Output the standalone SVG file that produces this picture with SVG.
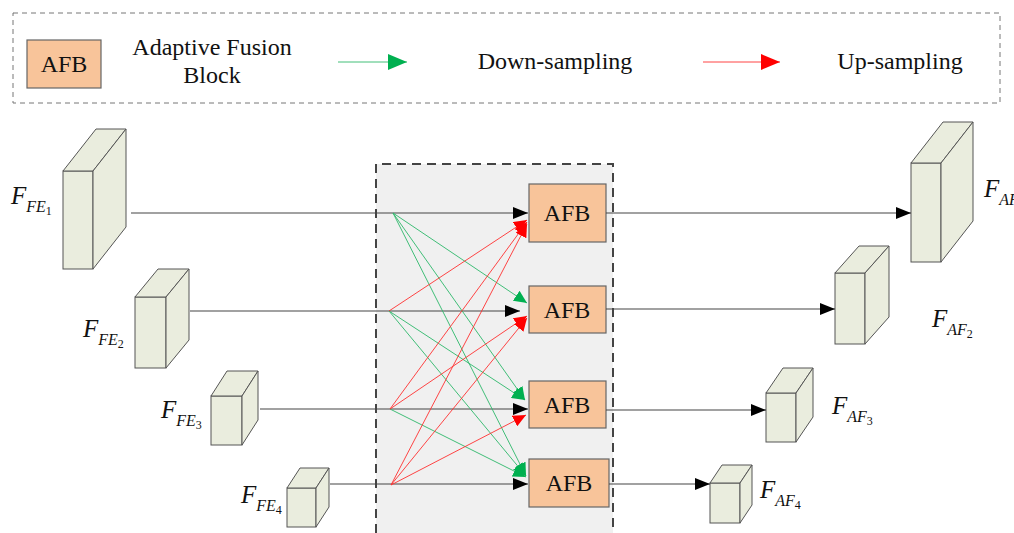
<svg xmlns="http://www.w3.org/2000/svg" width="1014" height="533" viewBox="0 0 1014 533">
<style>
.dash{fill:none;stroke:#777;stroke-width:1;stroke-dasharray:5,4}
.afb{fill:#f8c49a;stroke:#666;stroke-width:1.2}
.afbt{font-family:"Liberation Serif",serif;font-size:24px;fill:#111;text-anchor:middle}
.leg{font-family:"Liberation Serif",serif;font-size:24px;fill:#111;text-anchor:middle}
.cube{fill:#eaedde;stroke:#555;stroke-width:1}
.blk{stroke:#444;stroke-width:1.1;fill:none}
.grn{stroke:#2db86a;stroke-width:0.9;fill:none}
.red{stroke:#ff3030;stroke-width:0.9;fill:none}
.lab{font-family:"Liberation Serif",serif;font-style:italic;font-size:25px;fill:#111}
.s1{font-size:16px}
.s2{font-size:12px;font-style:normal}
</style>
<defs>
<marker id="mb" markerUnits="userSpaceOnUse" markerWidth="16" markerHeight="12" refX="15" refY="6" orient="auto"><path d="M0,0 L15,6 L0,12 z" fill="#000"/></marker>
<marker id="mg" markerUnits="userSpaceOnUse" markerWidth="14" markerHeight="12" refX="13" refY="6" orient="auto"><path d="M0,0 L13,6 L0,12 z" fill="#00b050"/></marker>
<marker id="mr" markerUnits="userSpaceOnUse" markerWidth="14" markerHeight="12" refX="13" refY="6" orient="auto"><path d="M0,0 L13,6 L0,12 z" fill="#ff0000"/></marker>
<marker id="mgl" markerUnits="userSpaceOnUse" markerWidth="20" markerHeight="16" refX="19" refY="8" orient="auto"><path d="M0,0 L19,8 L0,16 z" fill="#00b050"/></marker>
<marker id="mrl" markerUnits="userSpaceOnUse" markerWidth="20" markerHeight="16" refX="19" refY="8" orient="auto"><path d="M0,0 L19,8 L0,16 z" fill="#ff0000"/></marker>
</defs>

<g id="legend">
<rect x="13" y="13" width="987" height="90" class="dash"/>
<rect x="27" y="40" width="74" height="48" class="afb"/>
<text x="64" y="72" class="afbt">AFB</text>
<text x="212" y="55" class="leg">Adaptive Fusion</text>
<text x="212" y="83" class="leg">Block</text>
<line x1="338" y1="62" x2="407" y2="62" class="grn" marker-end="url(#mgl)"/>
<text x="555" y="69" class="leg">Down-sampling</text>
<line x1="703" y1="62" x2="780" y2="62" class="red" marker-end="url(#mrl)"/>
<text x="900" y="69" class="leg">Up-sampling</text>
</g>

<g id="fusion-region">
<rect x="376" y="164" width="237" height="380" fill="#f0f0f0"/>
<path d="M376,533 V164 H613 V533" fill="none" stroke="#444" stroke-width="2" stroke-dasharray="9,6"/>
</g>

<g id="in1"><rect x="63" y="171" width="30" height="98" class="cube"/><path d="M63,171 L96,129 L126,129 L93,171 z" class="cube"/><path d="M93,171 L126,129 L126,227 L93,269 z" class="cube"/>
<text x="11" y="204" class="lab">F<tspan class="s1" dy="8">FE</tspan><tspan class="s2" dy="3">1</tspan></text></g>
<g id="in2"><rect x="135" y="297" width="31" height="71" class="cube"/><path d="M135,297 L158,269 L189,269 L166,297 z" class="cube"/><path d="M166,297 L189,269 L189,340 L166,368 z" class="cube"/>
<text x="83" y="337" class="lab">F<tspan class="s1" dy="8">FE</tspan><tspan class="s2" dy="3">2</tspan></text></g>
<g id="in3"><rect x="211" y="396" width="31" height="49" class="cube"/><path d="M211,396 L227,371 L258,371 L242,396 z" class="cube"/><path d="M242,396 L258,371 L258,420 L242,445 z" class="cube"/>
<text x="161" y="418" class="lab">F<tspan class="s1" dy="8">FE</tspan><tspan class="s2" dy="3">3</tspan></text></g>
<g id="in4"><rect x="287" y="488" width="29" height="39" class="cube"/><path d="M287,488 L300,468 L329,468 L316,488 z" class="cube"/><path d="M316,488 L329,468 L329,507 L316,527 z" class="cube"/>
<text x="241" y="503" class="lab">F<tspan class="s1" dy="8">FE</tspan><tspan class="s2" dy="3">4</tspan></text></g>

<g id="afb1"><rect x="529" y="184" width="77" height="58" class="afb"/><text x="567" y="221" class="afbt">AFB</text></g>
<g id="afb2"><rect x="529" y="286" width="77" height="47" class="afb"/><text x="567" y="318" class="afbt">AFB</text></g>
<g id="afb3"><rect x="529" y="381" width="77" height="47" class="afb"/><text x="567" y="413" class="afbt">AFB</text></g>
<g id="afb4"><rect x="529" y="459" width="80" height="48" class="afb"/><text x="569" y="491" class="afbt">AFB</text></g>

<g id="out1"><rect x="911" y="163" width="30" height="99" class="cube"/><path d="M911,163 L943,122 L973,122 L941,163 z" class="cube"/><path d="M941,163 L973,122 L973,221 L941,262 z" class="cube"/>
<text x="984" y="197" class="lab">F<tspan class="s1" dy="8">AF</tspan><tspan class="s2" dy="3">1</tspan></text></g>
<g id="out2"><rect x="835" y="273" width="30" height="71" class="cube"/><path d="M835,273 L859,246 L889,246 L865,273 z" class="cube"/><path d="M865,273 L889,246 L889,317 L865,344 z" class="cube"/>
<text x="932" y="327" class="lab">F<tspan class="s1" dy="8">AF</tspan><tspan class="s2" dy="3">2</tspan></text></g>
<g id="out3"><rect x="766" y="393" width="30" height="49" class="cube"/><path d="M766,393 L783,368 L813,368 L796,393 z" class="cube"/><path d="M796,393 L813,368 L813,417 L796,442 z" class="cube"/>
<text x="832" y="414" class="lab">F<tspan class="s1" dy="8">AF</tspan><tspan class="s2" dy="3">3</tspan></text></g>
<g id="out4"><rect x="710" y="483" width="30" height="40" class="cube"/><path d="M710,483 L722,465 L752,465 L740,483 z" class="cube"/><path d="M740,483 L752,465 L752,505 L740,523 z" class="cube"/>
<text x="760" y="498" class="lab">F<tspan class="s1" dy="8">AF</tspan><tspan class="s2" dy="3">4</tspan></text></g>

<g id="connectors">
<line x1="131" y1="213" x2="528" y2="213" class="blk" marker-end="url(#mb)"/>
<line x1="190" y1="311" x2="520" y2="311" class="blk" marker-end="url(#mb)"/>
<line x1="260" y1="409" x2="528" y2="409" class="blk" marker-end="url(#mb)"/>
<line x1="330" y1="484" x2="528" y2="484" class="blk" marker-end="url(#mb)"/>

<line x1="393" y1="213" x2="527" y2="303" class="grn" marker-end="url(#mg)"/>
<line x1="393" y1="213" x2="525" y2="400" class="grn" marker-end="url(#mg)"/>
<line x1="393" y1="213" x2="526" y2="476" class="grn" marker-end="url(#mg)"/>
<line x1="389" y1="311" x2="525" y2="400" class="grn" marker-end="url(#mg)"/>
<line x1="389" y1="311" x2="526" y2="476" class="grn" marker-end="url(#mg)"/>
<line x1="390" y1="409" x2="526" y2="477" class="grn" marker-end="url(#mg)"/>

<line x1="389" y1="311" x2="527" y2="220" class="red" marker-end="url(#mr)"/>
<line x1="390" y1="409" x2="527" y2="222" class="red" marker-end="url(#mr)"/>
<line x1="390" y1="409" x2="527" y2="316" class="red" marker-end="url(#mr)"/>
<line x1="391" y1="485" x2="527" y2="224" class="red" marker-end="url(#mr)"/>
<line x1="391" y1="485" x2="527" y2="318" class="red" marker-end="url(#mr)"/>
<line x1="391" y1="485" x2="526" y2="415" class="red" marker-end="url(#mr)"/>

<line x1="606" y1="213" x2="911" y2="213" class="blk" marker-end="url(#mb)"/>
<line x1="606" y1="309" x2="835" y2="309" class="blk" marker-end="url(#mb)"/>
<line x1="606" y1="410" x2="766" y2="410" class="blk" marker-end="url(#mb)"/>
<line x1="609" y1="484" x2="710" y2="484" class="blk" marker-end="url(#mb)"/>
</g>
</svg>
